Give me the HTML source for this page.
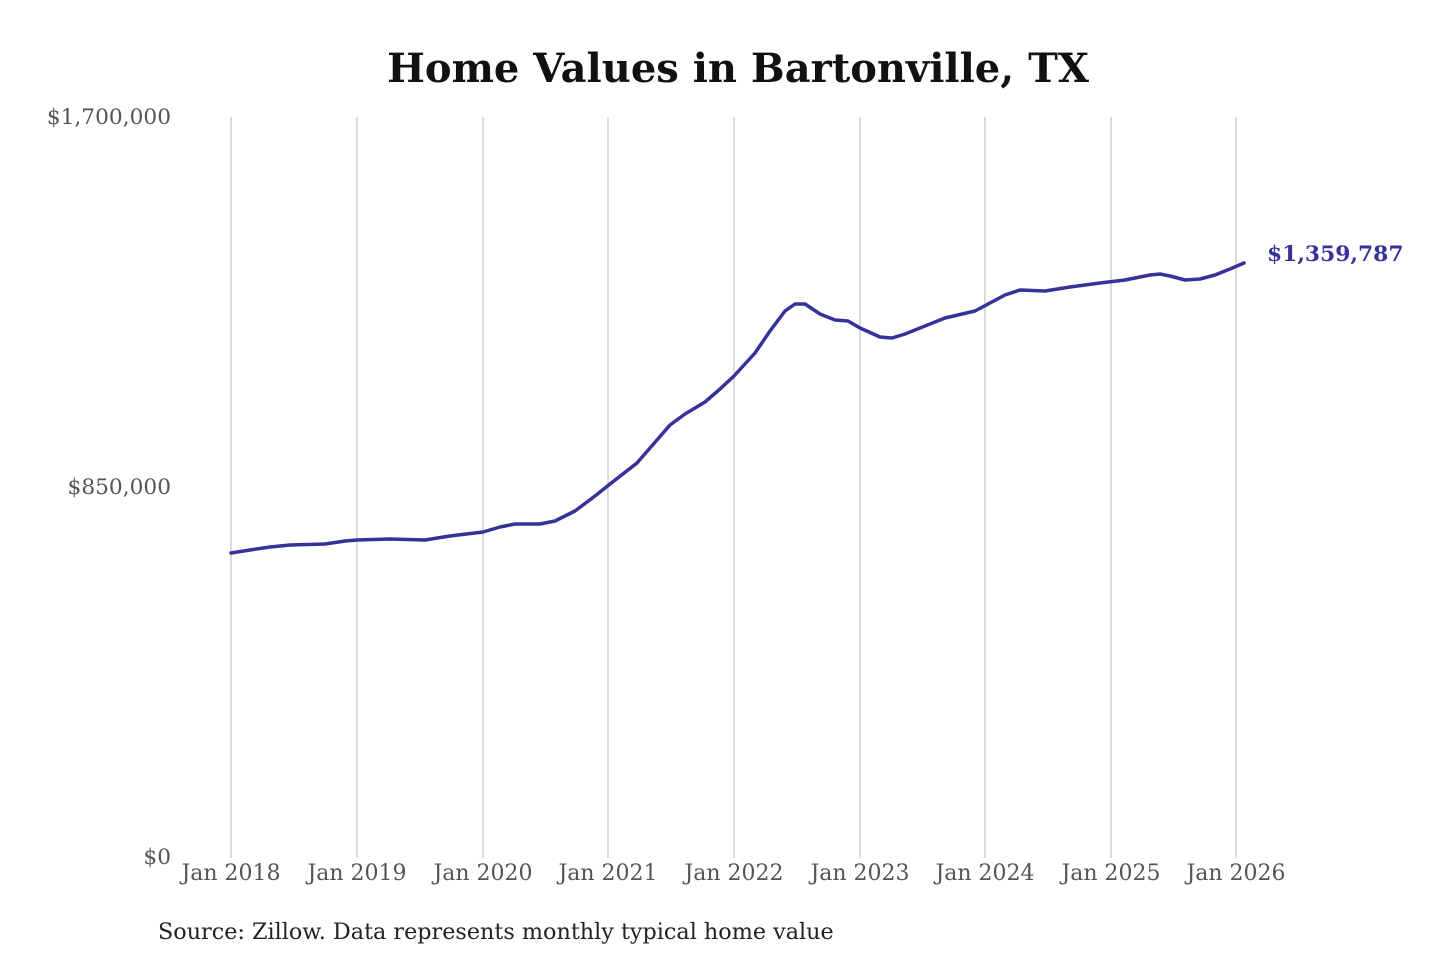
<!DOCTYPE html>
<html><head><meta charset="utf-8"><style>
html,body{margin:0;padding:0;background:#fff;}
svg{display:block;}
</style></head><body>
<svg width="1440" height="960" viewBox="0 0 1440 960" xmlns="http://www.w3.org/2000/svg">
<rect width="1440" height="960" fill="#fff"/>
<text x="738" y="82" text-anchor="middle" font-family="'DejaVu Serif','Liberation Serif',serif" font-weight="bold" font-size="40" fill="#111">Home Values in Bartonville, TX</text>
<g stroke="#c8c8c8" stroke-width="1.3">
<line x1="231" y1="117" x2="231" y2="858"/>
<line x1="357" y1="117" x2="357" y2="858"/>
<line x1="483" y1="117" x2="483" y2="858"/>
<line x1="608" y1="117" x2="608" y2="858"/>
<line x1="734" y1="117" x2="734" y2="858"/>
<line x1="860" y1="117" x2="860" y2="858"/>
<line x1="985" y1="117" x2="985" y2="858"/>
<line x1="1111" y1="117" x2="1111" y2="858"/>
<line x1="1236" y1="117" x2="1236" y2="858"/>
</g>
<g font-family="'DejaVu Serif','Liberation Serif',serif" font-size="21.7" fill="#555" text-anchor="end">
<text x="171" y="124">$1,700,000</text>
<text x="171" y="494">$850,000</text>
<text x="171" y="864">$0</text>
</g>
<g font-family="'DejaVu Serif','Liberation Serif',serif" font-size="22" fill="#555" text-anchor="middle">
<text x="231" y="880">Jan 2018</text>
<text x="357" y="880">Jan 2019</text>
<text x="483" y="880">Jan 2020</text>
<text x="608" y="880">Jan 2021</text>
<text x="734" y="880">Jan 2022</text>
<text x="860" y="880">Jan 2023</text>
<text x="985" y="880">Jan 2024</text>
<text x="1111" y="880">Jan 2025</text>
<text x="1236" y="880">Jan 2026</text>
</g>
<polyline fill="none" stroke="#36329a" stroke-width="3.5" stroke-linejoin="round" stroke-linecap="round" points="231,553 250,550 270,547 290,545 325,544 345,541 357,540 390,539 425,540 450,536 483,532 500,527 515,524 540,524 555,521 575,511 595,496 610,484 637,463 650,448 670,425 685,414 705,402 720,389 734,376 755,353 770,331 785,311 795,304 805,304 820,314 835,320 848,321 860,328 880,337 892,338 905,334 925,326 945,318 975,311 990,303 1005,295 1020,290 1045,291 1070,287 1100,283 1125,280 1150,275 1160,274 1170,276 1185,280 1200,279 1215,275 1230,269 1244,263"/>
<text x="1267" y="261" font-family="'DejaVu Serif','Liberation Serif',serif" font-weight="bold" font-size="21.8" fill="#36329a">$1,359,787</text>
<text x="158" y="939" font-family="'DejaVu Serif','Liberation Serif',serif" font-size="22.3" fill="#222">Source: Zillow. Data represents monthly typical home value</text>
</svg>
</body></html>
